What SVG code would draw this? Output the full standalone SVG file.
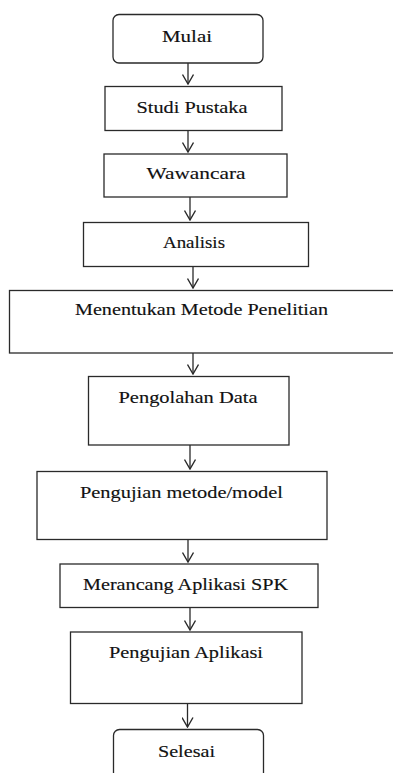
<svg xmlns="http://www.w3.org/2000/svg" width="393" height="773" viewBox="0 0 393 773">
<defs>
<style>
.box{fill:#fff;stroke:#2a2a2a;stroke-width:1.3}
.lbl{font-family:"Liberation Serif","Times New Roman",serif;font-size:17px;fill:#111;stroke:#111;stroke-width:0.15;text-anchor:middle}
.con{stroke:#2a2a2a;stroke-width:1.3;fill:none}
</style>
<marker id="v" viewBox="0 0 11 12" refX="10" refY="6" markerUnits="userSpaceOnUse" markerWidth="11" markerHeight="12" orient="auto">
<path d="M0.5,0.5 L10,6 L0.5,11.5" fill="none" stroke="#2a2a2a" stroke-width="1.4"/>
</marker>
</defs>
<rect width="393" height="773" fill="#fff"/>
<g id="connectors">
<line class="con" x1="188" y1="63" x2="188" y2="84" marker-end="url(#v)"/>
<line class="con" x1="188" y1="130.5" x2="188" y2="152" marker-end="url(#v)"/>
<line class="con" x1="190" y1="197" x2="190" y2="220" marker-end="url(#v)"/>
<line class="con" x1="193" y1="266.5" x2="193" y2="288" marker-end="url(#v)"/>
<line class="con" x1="193" y1="353" x2="193" y2="374" marker-end="url(#v)"/>
<line class="con" x1="190" y1="445" x2="190" y2="469" marker-end="url(#v)"/>
<line class="con" x1="188" y1="539.5" x2="188" y2="562" marker-end="url(#v)"/>
<line class="con" x1="190" y1="607.5" x2="190" y2="630" marker-end="url(#v)"/>
<line class="con" x1="187.5" y1="703.5" x2="187.5" y2="727" marker-end="url(#v)"/>
</g>
<g id="mulai">
<rect class="box" x="113" y="14.5" width="150" height="48.5" rx="6"/>
<text class="lbl" x="187" y="41.5" textLength="50" lengthAdjust="spacingAndGlyphs">Mulai</text>
</g>
<g id="studi-pustaka">
<rect class="box" x="105" y="86.5" width="177" height="44"/>
<text class="lbl" x="192" y="113" textLength="111" lengthAdjust="spacingAndGlyphs">Studi Pustaka</text>
</g>
<g id="wawancara">
<rect class="box" x="104" y="154" width="183" height="43"/>
<text class="lbl" x="196" y="179" textLength="99" lengthAdjust="spacingAndGlyphs">Wawancara</text>
</g>
<g id="analisis">
<rect class="box" x="83.5" y="222.5" width="225" height="44"/>
<text class="lbl" x="194" y="248" textLength="62" lengthAdjust="spacingAndGlyphs">Analisis</text>
</g>
<g id="menentukan-metode">
<rect class="box" x="9.5" y="290.5" width="400" height="62.5"/>
<text class="lbl" x="201.5" y="315" textLength="253" lengthAdjust="spacingAndGlyphs">Menentukan Metode Penelitian</text>
</g>
<g id="pengolahan-data">
<rect class="box" x="88.5" y="376.5" width="200.5" height="68.5"/>
<text class="lbl" x="188" y="403" textLength="139" lengthAdjust="spacingAndGlyphs">Pengolahan Data</text>
</g>
<g id="pengujian-metode">
<rect class="box" x="37" y="471.5" width="290" height="68"/>
<text class="lbl" x="181.5" y="498" textLength="203" lengthAdjust="spacingAndGlyphs">Pengujian metode/model</text>
</g>
<g id="merancang-aplikasi">
<rect class="box" x="60" y="564" width="258" height="43.5"/>
<text class="lbl" x="185.5" y="590" textLength="205" lengthAdjust="spacingAndGlyphs">Merancang Aplikasi SPK</text>
</g>
<g id="pengujian-aplikasi">
<rect class="box" x="70.5" y="632" width="231.5" height="71.5"/>
<text class="lbl" x="186" y="658" textLength="154" lengthAdjust="spacingAndGlyphs">Pengujian Aplikasi</text>
</g>
<g id="selesai">
<rect class="box" x="113.5" y="729.5" width="150" height="49" rx="6"/>
<text class="lbl" x="186.5" y="757" textLength="57" lengthAdjust="spacingAndGlyphs">Selesai</text>
</g>
</svg>
